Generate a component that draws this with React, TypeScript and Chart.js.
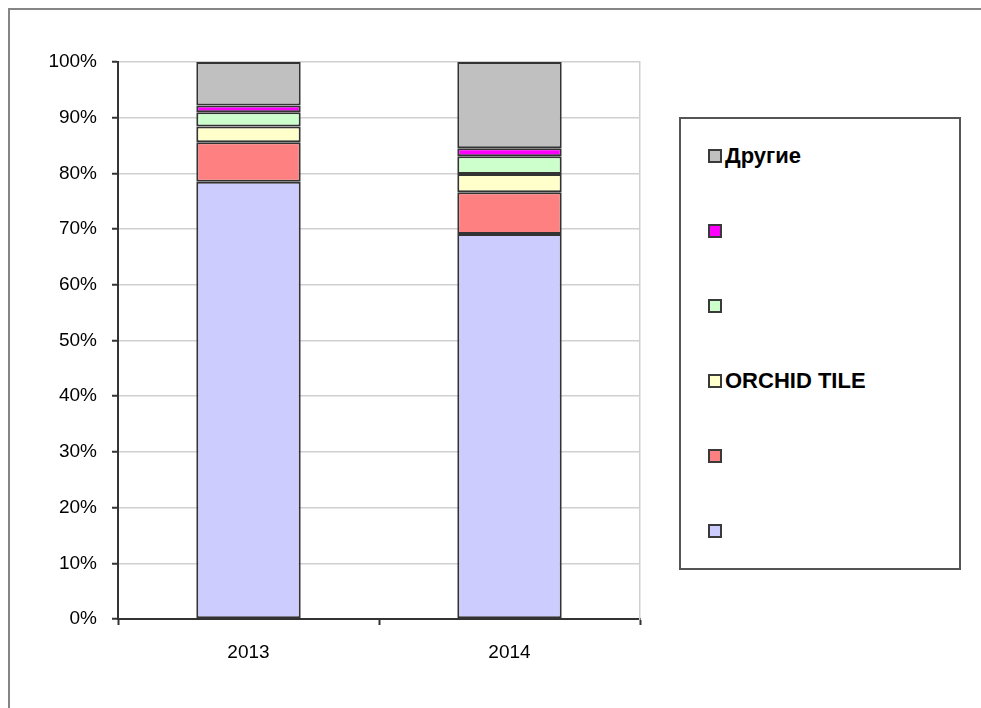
import React, { useEffect, useRef } from "react";
import { Chart, registerables } from "chart.js";

Chart.register(...registerables);

// ---- data ----
const categories = ["2013", "2014"];
const seriesNames = ["", "", "ORCHID TILE", "", "", "Другие"];
const seriesColors = ["#CCCCFF", "#FF8080", "#FFFFCC", "#CCFFCC", "#FF00FF", "#C0C0C0"];
const blueValues = [78.5, 69.1];
const redValues = [7.1, 7.5];
const yellowValues = [2.8, 3.3];
const greenValues = [2.6, 3.2];
const magentaValues = [1.2, 1.4];
const otherValues = [7.8, 15.5];
const seriesValues = [blueValues, redValues, yellowValues, greenValues, magentaValues, otherValues];
const yTickStep = 10;
const yTickSuffix = "%";

const FONT = "'Liberation Sans', Arial, sans-serif";

export default function App() {
  const canvasRef = useRef<HTMLCanvasElement | null>(null);

  useEffect(() => {
    const canvas = canvasRef.current;
    if (!canvas) return;
    const yAxisW = 100;
    const xAxisH = 60;
    const chart = new Chart(canvas, {
      type: "bar",
      data: {
        labels: categories,
        datasets: seriesValues.map((vals, i) => ({
          label: seriesNames[i],
          data: vals,
          backgroundColor: seriesColors[i],
          borderColor: "#333333",
          borderWidth: 2,
          borderSkipped: false,
          categoryPercentage: 1,
          barPercentage: 0.4,
          stack: "s",
        })),
      },
      options: {
        responsive: false,
        maintainAspectRatio: false,
        animation: false,
        devicePixelRatio: 1,
        layout: {
          padding: { left: 118 - yAxisW, top: 62, right: 981 - 640, bottom: 708 - 619 - xAxisH },
        },
        plugins: {
          legend: { display: false },
          tooltip: { enabled: false },
          title: { display: false },
        },
        scales: {
          x: {
            stacked: true,
            offset: true,
            afterFit: (s: any) => {
              s.height = xAxisH;
            },
            grid: {
              offset: true,
              drawOnChartArea: false,
              drawTicks: true,
              tickLength: 6,
              tickColor: "#333333",
              tickWidth: 2,
            },
            border: { display: true, color: "#333333", width: 2 },
            ticks: {
              color: "#000000",
              padding: 16,
              font: { family: FONT, size: 19 },
            },
          },
          y: {
            stacked: true,
            min: 0,
            max: 100,
            afterFit: (s: any) => {
              s.width = yAxisW;
            },
            grid: {
              color: "#d0d0d0",
              lineWidth: 1.5,
              drawTicks: true,
              tickLength: 6,
              tickColor: "#333333",
              tickWidth: 2,
            },
            border: { display: true, color: "#333333", width: 2 },
            ticks: {
              stepSize: yTickStep,
              color: "#000000",
              padding: 15,
              font: { family: FONT, size: 19 },
              callback: (v: any) => v + yTickSuffix,
            },
          },
          y2: {
            position: "right",
            display: true,
            min: 0,
            max: 100,
            afterFit: (s: any) => {
              s.width = 0;
            },
            grid: { drawOnChartArea: false, drawTicks: false },
            border: { display: true, color: "#d0d0d0", width: 1.5 },
            ticks: { display: false },
          },
        },
      },
    });
    return () => chart.destroy();
  }, []);

  const legendOrder = seriesNames.map((_, i) => i).reverse();

  return (
    <div>
      <div
        style={{
          position: "fixed",
          left: 8,
          top: 8,
          width: 1200,
          height: 1000,
          borderTop: "2px solid #858585",
          borderLeft: "2px solid #858585",
          boxSizing: "border-box",
          background: "#ffffff",
        }}
      />
      <canvas
        ref={canvasRef}
        width={981}
        height={708}
        style={{ position: "fixed", left: 0, top: 0, width: 981, height: 708 }}
      />
      <div
        style={{
          position: "fixed",
          left: 679,
          top: 117,
          width: 282,
          height: 453,
          border: "2px solid #555555",
          boxSizing: "border-box",
          background: "#ffffff",
        }}
      />
      {legendOrder.map((idx, k) => {
        const cy = 156 + 75 * k;
        return (
          <React.Fragment key={idx}>
            <div
              style={{
                position: "fixed",
                left: 708,
                top: cy - 7,
                width: 14,
                height: 14,
                boxSizing: "border-box",
                border: "2px solid #3a3a3a",
                background: seriesColors[idx],
              }}
            />
            <div
              style={{
                position: "fixed",
                left: 725,
                top: cy - 11,
                height: 22,
                lineHeight: "22px",
                fontFamily: FONT,
                fontWeight: "bold",
                fontSize: 22,
                color: "#000000",
                whiteSpace: "nowrap",
              }}
            >
              {seriesNames[idx]}
            </div>
          </React.Fragment>
        );
      })}
    </div>
  );
}
